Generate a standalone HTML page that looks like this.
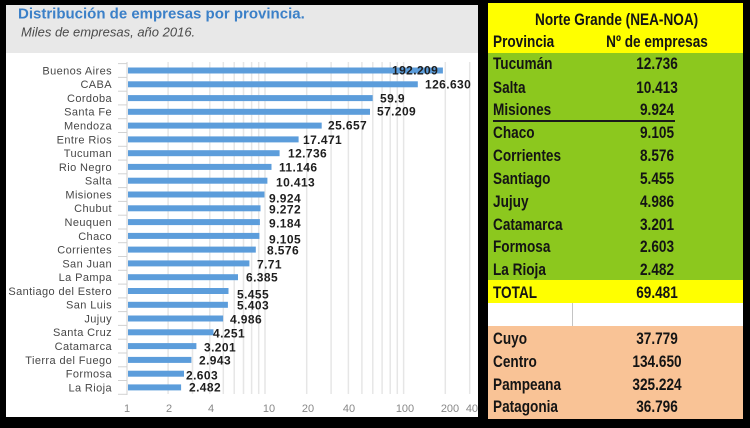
<!DOCTYPE html>
<html><head><meta charset="utf-8">
<style>
html,body{margin:0;padding:0;background:#000;}
body{width:750px;height:428px;position:relative;overflow:hidden;font-family:"Liberation Sans",sans-serif;}
#left{position:absolute;left:6px;top:5px;width:472px;height:412px;background:#fff;overflow:hidden;}
#right{position:absolute;left:488px;top:3px;width:255px;height:416px;overflow:hidden;}
.band{position:absolute;left:0;width:255px;}
.t{position:absolute;font-weight:bold;font-size:17px;line-height:20px;color:#141414;white-space:nowrap;}
.l{left:5px;transform:scaleX(0.8);transform-origin:left center;}
.c{width:200px;text-align:center;transform:scaleX(0.8);transform-origin:center center;}
</style></head><body>
<div id="left">
<svg width="472" height="412" viewBox="6 5 472 412" xmlns="http://www.w3.org/2000/svg" style="position:absolute;left:0;top:0">
<rect x="6" y="5" width="472" height="48" fill="#e8e8e8"/>
<text x="18" y="18.5" font-family="Liberation Sans, sans-serif" font-weight="bold" font-size="15" fill="#3b80c8">Distribución de empresas por provincia.</text>
<text x="21" y="36.7" font-family="Liberation Sans, sans-serif" font-style="italic" font-size="13" fill="#4a4a4a">Miles de empresas, año 2016.</text>
<g stroke="#e6e6e6" stroke-width="1.5">
<line x1="168.1" y1="62" x2="168.1" y2="394"/>
<line x1="192.5" y1="62" x2="192.5" y2="394"/>
<line x1="209.8" y1="62" x2="209.8" y2="394"/>
<line x1="223.3" y1="62" x2="223.3" y2="394"/>
<line x1="234.2" y1="62" x2="234.2" y2="394"/>
<line x1="243.5" y1="62" x2="243.5" y2="394"/>
<line x1="251.6" y1="62" x2="251.6" y2="394"/>
<line x1="258.7" y1="62" x2="258.7" y2="394"/>
<line x1="265.0" y1="62" x2="265.0" y2="394"/>
<line x1="306.7" y1="62" x2="306.7" y2="394"/>
<line x1="331.1" y1="62" x2="331.1" y2="394"/>
<line x1="348.4" y1="62" x2="348.4" y2="394"/>
<line x1="361.9" y1="62" x2="361.9" y2="394"/>
<line x1="372.8" y1="62" x2="372.8" y2="394"/>
<line x1="382.1" y1="62" x2="382.1" y2="394"/>
<line x1="390.2" y1="62" x2="390.2" y2="394"/>
<line x1="397.3" y1="62" x2="397.3" y2="394"/>
<line x1="403.6" y1="62" x2="403.6" y2="394"/>
<line x1="445.3" y1="62" x2="445.3" y2="394"/>
<line x1="469.7" y1="62" x2="469.7" y2="394"/>
</g>
<g stroke="#d2d2d2" stroke-width="1">
<line x1="127" y1="62" x2="127" y2="395"/>
<line x1="118" y1="63.6" x2="127" y2="63.6"/>
<line x1="118" y1="77.4" x2="127" y2="77.4"/>
<line x1="118" y1="91.2" x2="127" y2="91.2"/>
<line x1="118" y1="104.9" x2="127" y2="104.9"/>
<line x1="118" y1="118.7" x2="127" y2="118.7"/>
<line x1="118" y1="132.5" x2="127" y2="132.5"/>
<line x1="118" y1="146.3" x2="127" y2="146.3"/>
<line x1="118" y1="160.1" x2="127" y2="160.1"/>
<line x1="118" y1="173.8" x2="127" y2="173.8"/>
<line x1="118" y1="187.6" x2="127" y2="187.6"/>
<line x1="118" y1="201.4" x2="127" y2="201.4"/>
<line x1="118" y1="215.2" x2="127" y2="215.2"/>
<line x1="118" y1="229.0" x2="127" y2="229.0"/>
<line x1="118" y1="242.7" x2="127" y2="242.7"/>
<line x1="118" y1="256.5" x2="127" y2="256.5"/>
<line x1="118" y1="270.3" x2="127" y2="270.3"/>
<line x1="118" y1="284.1" x2="127" y2="284.1"/>
<line x1="118" y1="297.9" x2="127" y2="297.9"/>
<line x1="118" y1="311.6" x2="127" y2="311.6"/>
<line x1="118" y1="325.4" x2="127" y2="325.4"/>
<line x1="118" y1="339.2" x2="127" y2="339.2"/>
<line x1="118" y1="353.0" x2="127" y2="353.0"/>
<line x1="118" y1="366.8" x2="127" y2="366.8"/>
<line x1="118" y1="380.5" x2="127" y2="380.5"/>
<line x1="118" y1="394.3" x2="127" y2="394.3"/>
</g>
<g fill="#5c9ddb">
<rect x="128" y="67.5" width="314.9" height="6"/>
<rect x="128" y="81.3" width="289.8" height="6"/>
<rect x="128" y="95.1" width="244.7" height="6"/>
<rect x="128" y="108.8" width="242.0" height="6"/>
<rect x="128" y="122.6" width="193.7" height="6"/>
<rect x="128" y="136.4" width="170.6" height="6"/>
<rect x="128" y="150.2" width="151.6" height="6"/>
<rect x="128" y="163.9" width="143.5" height="6"/>
<rect x="128" y="177.7" width="139.4" height="6"/>
<rect x="128" y="191.5" width="136.5" height="6"/>
<rect x="128" y="205.3" width="132.5" height="6"/>
<rect x="128" y="219.1" width="131.9" height="6"/>
<rect x="128" y="232.9" width="131.4" height="6"/>
<rect x="128" y="246.6" width="127.8" height="6"/>
<rect x="128" y="260.4" width="121.4" height="6"/>
<rect x="128" y="274.2" width="110.0" height="6"/>
<rect x="128" y="288.0" width="100.5" height="6"/>
<rect x="128" y="301.8" width="99.9" height="6"/>
<rect x="128" y="315.5" width="95.1" height="6"/>
<rect x="128" y="329.3" width="85.5" height="6"/>
<rect x="128" y="343.1" width="68.4" height="6"/>
<rect x="128" y="356.9" width="63.4" height="6"/>
<rect x="128" y="370.7" width="56.0" height="6"/>
<rect x="128" y="384.4" width="53.1" height="6"/>
</g>
<g font-family="Liberation Sans, sans-serif" font-size="11" fill="#474747" text-anchor="end" letter-spacing="0.4">
<text x="112" y="74.4">Buenos Aires</text>
<text x="112" y="88.2">CABA</text>
<text x="112" y="102.0">Cordoba</text>
<text x="112" y="115.7">Santa Fe</text>
<text x="112" y="129.5">Mendoza</text>
<text x="112" y="143.3">Entre Rios</text>
<text x="112" y="157.1">Tucuman</text>
<text x="112" y="170.8">Rio Negro</text>
<text x="112" y="184.6">Salta</text>
<text x="112" y="198.4">Misiones</text>
<text x="112" y="212.2">Chubut</text>
<text x="112" y="226.0">Neuquen</text>
<text x="112" y="239.8">Chaco</text>
<text x="112" y="253.5">Corrientes</text>
<text x="112" y="267.3">San Juan</text>
<text x="112" y="281.1">La Pampa</text>
<text x="112" y="294.9">Santiago del Estero</text>
<text x="112" y="308.7">San Luis</text>
<text x="112" y="322.4">Jujuy</text>
<text x="112" y="336.2">Santa Cruz</text>
<text x="112" y="350.0">Catamarca</text>
<text x="112" y="363.8">Tierra del Fuego</text>
<text x="112" y="377.6">Formosa</text>
<text x="112" y="391.3">La Rioja</text>
</g>
<g font-family="Liberation Sans, sans-serif" font-size="12" font-weight="bold" fill="#1e1e1e" letter-spacing="0.4">
<text x="392" y="74.3">192.209</text>
<text x="425" y="88.3">126.630</text>
<text x="380" y="102.3">59.9</text>
<text x="377" y="115.3">57.209</text>
<text x="328" y="129.3">25.657</text>
<text x="303" y="143.8">17.471</text>
<text x="288" y="157.3">12.736</text>
<text x="279" y="171.3">11.146</text>
<text x="276" y="186.3">10.413</text>
<text x="269" y="202.3">9.924</text>
<text x="269" y="213.3">9.272</text>
<text x="269" y="227.3">9.184</text>
<text x="269" y="243.3">9.105</text>
<text x="267" y="254.3">8.576</text>
<text x="257" y="268.3">7.71</text>
<text x="246" y="281.3">6.385</text>
<text x="237" y="298.3">5.455</text>
<text x="237" y="309.3">5.403</text>
<text x="230" y="323.3">4.986</text>
<text x="213" y="337.3">4.251</text>
<text x="204" y="351.3">3.201</text>
<text x="199" y="364.3">2.943</text>
<text x="186" y="379.3">2.603</text>
<text x="189" y="391.3">2.482</text>
</g>
<g font-family="Liberation Sans, sans-serif" font-size="11" fill="#888" text-anchor="middle">
<text x="127" y="412">1</text>
<text x="169" y="412">2</text>
<text x="211" y="412">4</text>
<text x="269" y="412">10</text>
<text x="308" y="412">20</text>
<text x="349" y="412">40</text>
<text x="405" y="412">100</text>
<text x="450" y="412">200</text>
<text x="475" y="412">400</text>
</g>
</svg>
</div>

<div id="right">
<div class="band" style="top:0;height:50px;background:#ffff00"></div>
<div class="band" style="top:50px;height:227px;background:#8cc81e"></div>
<div class="band" style="top:277px;height:23px;background:#ffff00"></div>
<div class="band" style="top:300px;height:23px;background:#ffffff"></div>
<div style="position:absolute;left:84px;top:300px;width:1px;height:23px;background:#c4c4c4"></div>
<div class="band" style="top:323px;height:93px;background:#f9c396"></div>
<div style="position:absolute;left:5px;top:117px;width:182px;height:2px;background:#1a1a1a"></div>

<div class="t c" style="left:27px;top:7px">Norte Grande (NEA-NOA)</div>
<div class="t l" style="top:29px">Provincia</div>
<div class="t c" style="left:69px;top:29px">Nº de empresas</div>

<div class="t l" style="top:51px">Tucumán</div><div class="t c" style="left:69px;top:51px">12.736</div>
<div class="t l" style="top:75px">Salta</div><div class="t c" style="left:69px;top:75px">10.413</div>
<div class="t l" style="top:97px">Misiones</div><div class="t c" style="left:69px;top:97px">9.924</div>
<div class="t l" style="top:120px">Chaco</div><div class="t c" style="left:69px;top:120px">9.105</div>
<div class="t l" style="top:143px">Corrientes</div><div class="t c" style="left:69px;top:143px">8.576</div>
<div class="t l" style="top:166px">Santiago</div><div class="t c" style="left:69px;top:166px">5.455</div>
<div class="t l" style="top:189px">Jujuy</div><div class="t c" style="left:69px;top:189px">4.986</div>
<div class="t l" style="top:212px">Catamarca</div><div class="t c" style="left:69px;top:212px">3.201</div>
<div class="t l" style="top:234px">Formosa</div><div class="t c" style="left:69px;top:234px">2.603</div>
<div class="t l" style="top:257px">La Rioja</div><div class="t c" style="left:69px;top:257px">2.482</div>
<div class="t l" style="top:280px">TOTAL</div><div class="t c" style="left:69px;top:280px">69.481</div>

<div class="t l" style="top:326px">Cuyo</div><div class="t c" style="left:69px;top:326px">37.779</div>
<div class="t l" style="top:349px">Centro</div><div class="t c" style="left:69px;top:349px">134.650</div>
<div class="t l" style="top:372px">Pampeana</div><div class="t c" style="left:69px;top:372px">325.224</div>
<div class="t l" style="top:394px">Patagonia</div><div class="t c" style="left:69px;top:394px">36.796</div>
</div>
</body></html>
